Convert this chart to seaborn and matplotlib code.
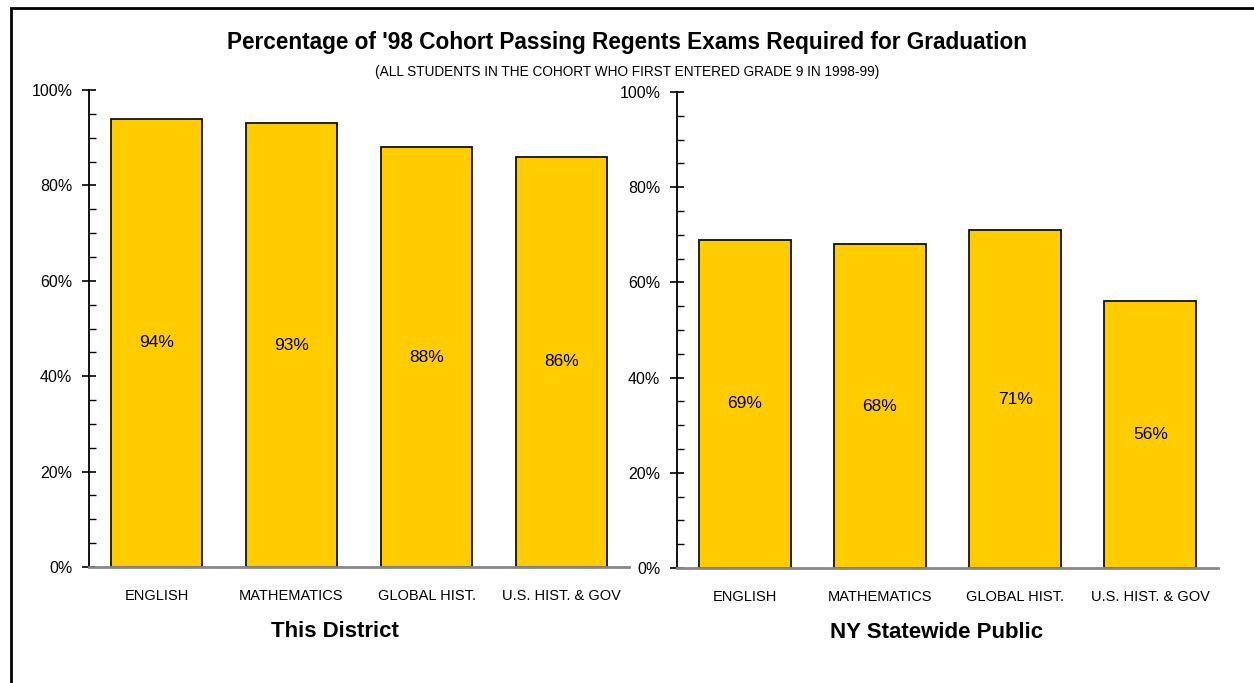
import matplotlib
matplotlib.use('Agg')
import matplotlib.pyplot as plt
import seaborn as sns
import pandas as pd
from matplotlib.ticker import MultipleLocator, FuncFormatter
from matplotlib.patches import Rectangle

subjects = ["English", "Mathematics", "Global Hist.", "U.S. Hist. & Gov"]
tick_labels = ["ENGLISH", "MATHEMATICS", "GLOBAL HIST.", "U.S. HIST. & GOV"]
district_values = [94, 93, 88, 86]
state_values = [69, 68, 71, 56]
panel_titles = ["This District", "NY Statewide Public"]
title = "Percentage of '98 Cohort Passing Regents Exams Required for Graduation"
subtitle = "(ALL STUDENTS IN THE COHORT WHO FIRST ENTERED GRADE 9 IN 1998-99)"

sns.set_theme(style='white')
plt.rcParams['font.family'] = ['Liberation Sans', 'DejaVu Sans']
plt.rcParams['text.color'] = 'black'
plt.rcParams['axes.labelcolor'] = 'black'
plt.rcParams['xtick.color'] = 'black'
plt.rcParams['ytick.color'] = 'black'
narrow = ['Liberation Sans Narrow', 'Liberation Sans', 'DejaVu Sans']

fig = plt.figure(figsize=(12.54, 6.83), dpi=100)

positions = [
    [89 / 1254, (683 - 567) / 683, 540 / 1254, 477 / 683],
    [677 / 1254, (683 - 568) / 683, 541 / 1254, 476 / 683],
]
label_x = [0.456, 0.48]

for pos, vals, ptitle, lx in zip(positions, [district_values, state_values], panel_titles, label_x):
    ax = fig.add_axes(pos)
    df = pd.DataFrame({"subject": subjects, "value": vals})
    sns.barplot(data=df, x="subject", y="value", ax=ax, color="#FFCC00",
                saturation=1, edgecolor="#111111", linewidth=1.3, width=0.68)
    ax.set_xlim(-0.5, 3.5)
    ax.set_ylim(0, 100)
    ax.set_xlabel("")
    ax.set_ylabel("")
    ax.yaxis.set_major_locator(MultipleLocator(20))
    ax.yaxis.set_minor_locator(MultipleLocator(5))
    ax.yaxis.set_major_formatter(FuncFormatter(lambda v, p: f"{int(v)}%"))
    ax.tick_params(axis='y', which='major', direction='inout', length=10, width=1.2,
                   color='black', labelsize=11.5, pad=7, left=True, labelcolor='black')
    ax.tick_params(axis='y', which='minor', direction='in', length=5, width=1,
                   color='black', left=True)
    for lab in ax.get_yticklabels():
        lab.set_family(narrow)
    ax.set_xticks(range(len(subjects)))
    ax.set_xticklabels(tick_labels, fontsize=10.5, family=narrow, color='black')
    ax.tick_params(axis='x', which='both', length=0, pad=16)
    for s in ['top', 'right']:
        ax.spines[s].set_visible(False)
    ax.spines['left'].set_color('black')
    ax.spines['left'].set_linewidth(1.3)
    ax.spines['bottom'].set_color('#888888')
    ax.spines['bottom'].set_linewidth(2)
    ax.grid(False)
    for i, v in enumerate(vals):
        ax.text(i, v / 2, f"{v}%", ha='center', va='center', fontsize=12.5,
                family=narrow, color='black')
    ax.text(lx, -0.135, ptitle, transform=ax.transAxes, ha='center', va='center',
            fontsize=16, fontweight='bold', color='black')

fig.text(0.5, 1 - 43 / 683, title, ha='center', va='center', fontsize=16.3,
         fontweight='bold', color='black')
fig.text(0.5, 1 - 72 / 683, subtitle, ha='center', va='center', fontsize=9.8,
         family=narrow, color='black')

fig.patches.append(Rectangle((11 / 1254, -0.05), 1.1, 1.05 - 8 / 683, transform=fig.transFigure,
                             fill=False, edgecolor='black', linewidth=2, figure=fig))

fig.savefig("out.png", dpi=100)
